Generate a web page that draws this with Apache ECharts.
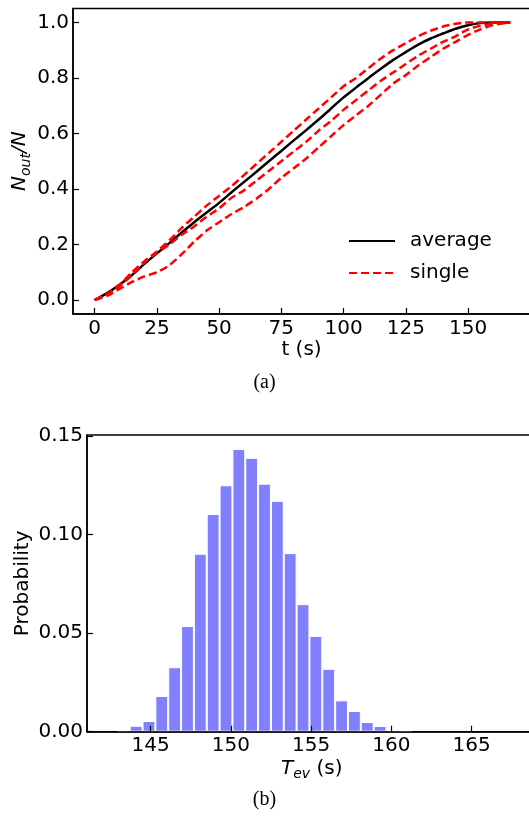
<!DOCTYPE html>
<html>
<head>
<meta charset="utf-8">
<script src="https://cdn.jsdelivr.net/npm/echarts@6/dist/echarts.min.js"></script>
<style>html,body{margin:0;padding:0;background:#fff}#c{width:529px;height:817px}</style>
</head>
<body>
<div id="c"></div>
<script>
// ---- Panel (a) data ----
var timeS = [0,5,10,15,20,25,30,35,40,45,50,55,60,65,70,75,80,85,90,95,100,105,110,115,120,125,130,135,140,145,150,155,160,165,167];
var avgFrac = [0,.025,.055,.09,.13,.168,.205,.243,.28,.315,.35,.388,.425,.462,.50,.537,.575,.612,.65,.69,.73,.765,.80,.833,.865,.893,.92,.942,.96,.977,.99,.998,1,1,1];
var single1 = [0,.022,.055,.10,.14,.175,.215,.26,.30,.34,.375,.41,.45,.49,.53,.57,.61,.65,.69,.73,.77,.80,.835,.87,.90,.925,.95,.97,.985,.995,1,1,1,1,1];
var single2 = [0,.02,.05,.09,.135,.17,.20,.235,.265,.30,.33,.368,.395,.43,.465,.50,.535,.57,.61,.645,.685,.72,.755,.79,.82,.85,.88,.905,.93,.95,.975,.988,.996,1,1];
var single3 = [0,.015,.04,.065,.085,.10,.125,.165,.21,.25,.28,.31,.335,.365,.40,.44,.475,.51,.55,.59,.63,.665,.70,.74,.78,.81,.845,.875,.905,.93,.955,.975,.99,.998,1];
var xTicksA = [0,25,50,75,100,125,150];
var yTicksA = [0,0.2,0.4,0.6,0.8,1.0];

// ---- Panel (b) data ----
var tevCenters = [143.3,144.1,144.9,145.7,146.5,147.3,148.1,148.9,149.7,150.5,151.3,152.1,152.9,153.7,154.5,155.3,156.1,156.9,157.7,158.5,159.3,160.1,160.9];
var probability = [0.0008,0.003,0.0054,0.0181,0.0327,0.0536,0.0903,0.1104,0.125,0.1434,0.1389,0.1258,0.1171,0.0906,0.0647,0.0486,0.0319,0.0159,0.0105,0.0049,0.0029,0.0008,0.0002];
var xTicksB = [145,150,155,160,165];
var yTicksB = [0,0.05,0.10,0.15];

function pairs(xs, ys){ return xs.map(function(x,i){ return [x, ys[i]]; }); }

var FONT = 'DejaVu Sans';
var chart = echarts.init(document.getElementById('c'), null, {renderer:'canvas'});
var axisCommon = {
  z:10,
  nameMoveOverlap:false,
  axisLine:{onZero:false, lineStyle:{color:'#000', width:1.5}},
  splitLine:{show:false}
};
var richLbl = {
  i:{fontFamily:FONT, fontStyle:'italic', fontSize:20, color:'#000'},
  s:{fontFamily:FONT, fontStyle:'italic', fontSize:14, color:'#000', padding:[12,0,0,0]},
  n:{fontFamily:FONT, fontSize:20, color:'#000'}
};

var option = {
  animation:false,
  backgroundColor:'#fff',
  grid:[
    {left:73, top:8.5, width:457, height:305.4, show:true, borderColor:'#000', borderWidth:1.5, containLabel:false, outerBoundsMode:'none'},
    {left:87, top:435, width:449.4, height:296.7, show:true, borderColor:'#000', borderWidth:1.5, containLabel:false, outerBoundsMode:'none'}
  ],
  legend:{
    left:343, top:226, orient:'vertical', itemWidth:46, itemHeight:14, itemGap:12,
    itemStyle:{opacity:0},
    textStyle:{fontFamily:FONT, fontSize:20, color:'#000', padding:[0,0,0,10]},
    data:['average','single']
  },
  xAxis:[
    Object.assign({gridIndex:0, type:'value', min:-8.7, max:174.9,
      axisTick:{inside:true, length:6, customValues:xTicksA, lineStyle:{color:'#000', width:1.2}},
      axisLabel:{customValues:xTicksA, fontFamily:FONT, fontSize:20, color:'#000', margin:5},
      name:'t (s)', nameLocation:'middle', nameGap:26, nameTextStyle:{fontFamily:FONT, fontSize:20, color:'#000'}
    }, axisCommon),
    Object.assign({gridIndex:1, type:'value', min:141.04, max:169.04,
      axisTick:{inside:true, length:6, customValues:xTicksB, lineStyle:{color:'#000', width:1.2}},
      axisLabel:{customValues:xTicksB, fontFamily:FONT, fontSize:20, color:'#000', margin:4},
      name:'{i|T}{s|ev}{n| (s)}', nameLocation:'middle', nameGap:24, nameTextStyle:{rich:richLbl}
    }, axisCommon)
  ],
  yAxis:[
    Object.assign({gridIndex:0, type:'value', min:-0.05, max:1.05,
      axisTick:{inside:true, length:6, customValues:yTicksA, lineStyle:{color:'#000', width:1.2}},
      axisLabel:{customValues:yTicksA, fontFamily:FONT, fontSize:20, color:'#000', margin:4,
        formatter:function(v){return v.toFixed(1);}},
      name:'{i|N}{s|out}{i|/N}', nameLocation:'middle', nameGap:40, nameTextStyle:{rich:richLbl}
    }, axisCommon),
    Object.assign({gridIndex:1, type:'value', min:0, max:0.1505,
      axisTick:{inside:true, length:6, customValues:yTicksB, lineStyle:{color:'#000', width:1.2}},
      axisLabel:{customValues:yTicksB, fontFamily:FONT, fontSize:20, color:'#000', margin:4,
        formatter:function(v){return v.toFixed(2);}},
      name:'Probability', nameLocation:'middle', nameGap:54, nameTextStyle:{fontFamily:FONT, fontSize:20, color:'#000'}
    }, axisCommon)
  ],
  graphic:[
    {type:'text', left:'center', top:373, style:{text:'(a)', font:'20px "Liberation Serif"', fill:'#000'}},
    {type:'text', left:'center', top:790, style:{text:'(b)', font:'20px "Liberation Serif"', fill:'#000'}}
  ],
  series:[
    {name:'single', type:'line', xAxisIndex:0, yAxisIndex:0, data:pairs(timeS, single1), symbol:'none', smooth:0.2,
      lineStyle:{color:'#ff0000', width:2.5, type:[8,4]}, itemStyle:{color:'#ff0000'}, z:3},
    {name:'single', type:'line', xAxisIndex:0, yAxisIndex:0, data:pairs(timeS, single2), symbol:'none', smooth:0.2,
      lineStyle:{color:'#ff0000', width:2.5, type:[8,4]}, itemStyle:{color:'#ff0000'}, z:3},
    {name:'single', type:'line', xAxisIndex:0, yAxisIndex:0, data:pairs(timeS, single3), symbol:'none', smooth:0.2,
      lineStyle:{color:'#ff0000', width:2.5, type:[8,4]}, itemStyle:{color:'#ff0000'}, z:3},
    {name:'average', type:'line', xAxisIndex:0, yAxisIndex:0, data:pairs(timeS, avgFrac), symbol:'none', smooth:0.3,
      lineStyle:{color:'#000', width:2.5}, itemStyle:{color:'#000'}, z:2},
    {name:'hist', type:'bar', xAxisIndex:1, yAxisIndex:1, data:pairs(tevCenters, probability), barWidth:12.84,
      itemStyle:{color:'#8080ff', borderColor:'#ffffff', borderWidth:1}}
  ]
};
chart.setOption(option);
</script>
</body>
</html>
